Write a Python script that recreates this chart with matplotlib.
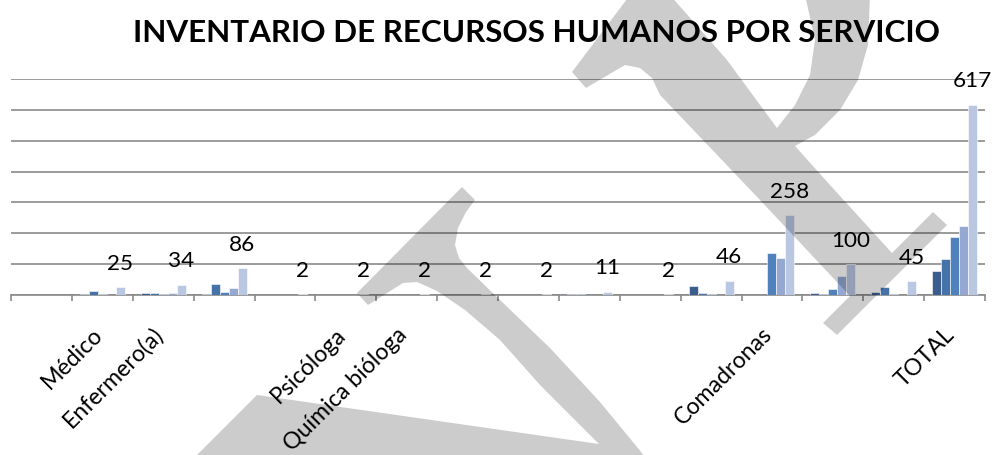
import matplotlib
matplotlib.use('Agg')
import matplotlib.pyplot as plt
from matplotlib.path import Path
from matplotlib.patches import PathPatch
from matplotlib.transforms import Affine2D, ScaledTranslation
import numpy as np

plt.rcParams['font.family'] = ['Lato', 'DejaVu Sans']

# ---------------- data ----------------
title = 'INVENTARIO DE RECURSOS HUMANOS POR SERVICIO'
categories = ['', 'Médico', 'Enfermero(a)', '', '', 'Psicóloga', 'Química bióloga',
              '', '', '', '', '', 'Comadronas', '', '', 'TOTAL']
serie1 = [0, 3, 5, 3, 0, 0, 0, 0, 0, 2, 0, 30, 0, 6, 10, 78]
serie2 = [0, 14, 8, 36, 0, 0, 0, 0, 0, 2, 0, 8, 0, 2, 25, 117]
serie3 = [0, 2, 3, 11, 0, 0, 0, 0, 0, 0, 0, 2, 135, 20, 3, 187]
serie4 = [0, 0, 6, 22, 0, 0, 0, 0, 0, 0, 0, 0, 121, 62, 0, 224]
total = [0, 25, 34, 86, 2, 2, 2, 2, 2, 11, 2, 46, 258, 100, 45, 617]
yticks = [0, 100, 200, 300, 400, 500, 600, 700]

series = [serie1, serie2, serie3, serie4, total]
colors = ['#3A5D8D', '#4472A9', '#4F81BD', '#94A8D1', '#B9C7E3']

# ---------------- figure ----------------
W, H = 994, 455
fig = plt.figure(figsize=(W / 100, H / 100), dpi=100)
fig.patch.set_facecolor('white')
ax = fig.add_axes([11 / W, 160 / H, 974 / W, 216 / H])
renderer = fig.canvas.get_renderer()


def fit_size(text, target_px, weight='normal', base=20.0):
    t = fig.text(0, 0, text, fontsize=base, fontweight=weight)
    w = t.get_window_extent(renderer).width
    t.remove()
    return base * target_px / w


title_fs = fit_size(title, 807, weight='bold')
tick_fs = fit_size('Comadronas', 128)
lab_fs = fit_size('258', 39)

n = len(categories)
x = np.arange(n)
bw = 9 / 61
for j, (vals, c) in enumerate(zip(series, colors)):
    ax.bar(x + (j - 2) * bw, vals, width=bw, color=c, edgecolor='white',
           linewidth=0.4, zorder=3)

for i in range(n):
    if total[i] > 0:
        ax.annotate(str(total[i]), (x[i] + 2 * bw, total[i]), xytext=(0, 12.6),
                    textcoords='offset points', ha='center', va='baseline',
                    fontsize=lab_fs, color='black', zorder=5, annotation_clip=False)

ax.set_xlim(-0.5, n - 0.5)
ax.set_ylim(0, 700)
ax.set_yticks(yticks)
ax.yaxis.grid(True, color='#8a8a8a', linewidth=1.2, zorder=0)
ax.set_axisbelow(True)
ax.tick_params(axis='y', length=0, labelleft=False)
for s in ['left', 'right', 'top']:
    ax.spines[s].set_visible(False)
ax.spines['bottom'].set_color('#8a8a8a')
ax.spines['bottom'].set_linewidth(1.2)

ax.set_xticks(x)
ax.set_xticklabels(categories, rotation=45, ha='right', va='center',
                   rotation_mode='anchor', fontsize=tick_fs)
ax.tick_params(axis='x', which='major', length=0, pad=26.0)
ax.set_xticks(np.arange(n + 1) - 0.5, minor=True)
ax.tick_params(axis='x', which='minor', length=4.5, width=1.2, color='#8a8a8a')
off = ScaledTranslation(-3 / 100, 0, fig.dpi_scale_trans)
for lab in ax.get_xticklabels():
    lab.set_transform(lab.get_transform() + off)

fig.text(536.5 / W, 1 - 42 / H, title, ha='center', va='baseline',
         fontsize=title_fs, fontweight='bold', color='black')

# ---------------- watermark overlay ----------------
poly_left = [(357, 293), (462, 187), (475, 200), (466, 212), (458, 228), (455, 245),
             (459, 258), (467, 268), (500, 300), (550, 348), (600, 402), (660, 475),
             (190, 475), (197, 455), (257, 395), (599, 444), (540, 385), (500, 340),
             (465, 310), (437, 291), (417, 282), (403, 283), (368, 305)]
poly_right = [(630, -5), (572, 72), (586, 88), (625, 65), (640, 68), (652, 78),
              (660, 95), (760, 200), (850, 296), (823, 323), (837, 335), (947, 225),
              (933, 212), (892, 253), (830, 185), (795, 146), (815, 135), (840, 110),
              (858, 80), (868, 45), (870, -5), (805, -5), (815, 40), (810, 75),
              (795, 105), (777, 128), (727, 60), (670, -5)]
verts, codes = [], []
for poly in (poly_left, poly_right):
    verts += poly + [poly[0]]
    codes += [Path.MOVETO] + [Path.LINETO] * (len(poly) - 1) + [Path.CLOSEPOLY]
T = Affine2D().scale(1 / W, -1 / H).translate(0, 1) + fig.transFigure
wm = PathPatch(Path(verts, codes), transform=T, facecolor='black', alpha=0.2,
               linewidth=0, zorder=10)
fig.add_artist(wm)

fig.savefig('out.png', dpi=100, facecolor='white')
